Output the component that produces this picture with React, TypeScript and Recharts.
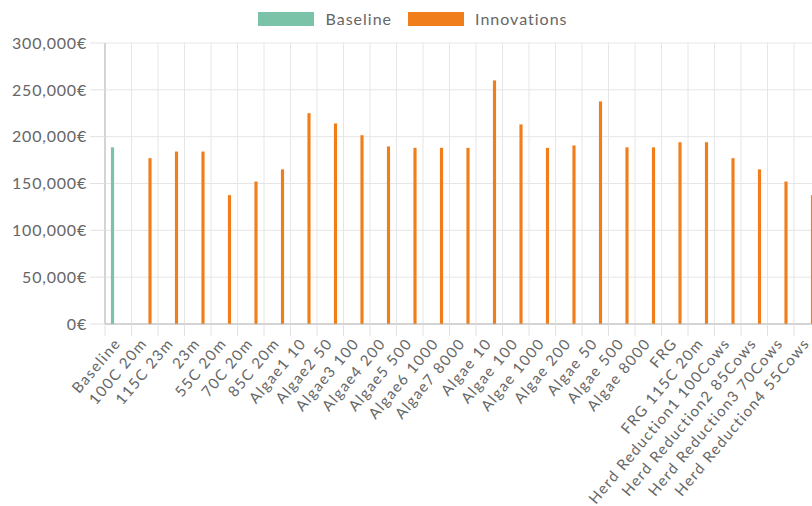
import { Bar, BarChart, CartesianGrid, Legend, XAxis, YAxis } from "recharts"

// Scenario names along the x axis
const categories = [
  "Baseline",
  "100C 20m",
  "115C 23m",
  "23m",
  "55C 20m",
  "70C 20m",
  "85C 20m",
  "Algae1 10",
  "Algae2 50",
  "Algae3 100",
  "Algae4 200",
  "Algae5 500",
  "Algae6 1000",
  "Algae7 8000",
  "Algae 10",
  "Algae 100",
  "Algae 1000",
  "Algae 200",
  "Algae 50",
  "Algae 500",
  "Algae 8000",
  "FRG",
  "FRG 115C 20m",
  "Herd Reduction1 100Cows",
  "Herd Reduction2 85Cows",
  "Herd Reduction3 70Cows",
  "Herd Reduction4 55Cows",
]

// Only the first scenario carries a baseline value
const baselineValues = [188500]

const innovationValues = [
  null, 177000, 184000, 184000, 137500, 152000, 165000, 225000, 214000, 201500,
  189500, 188000, 188000, 188000, 260000, 213000, 188000, 190500, 237500, 188500,
  188500, 194000, 194000, 177000, 165000, 152000, 137500,
]

const yTicks = [0, 50000, 100000, 150000, 200000, 250000, 300000]

const data = categories.map((name, i) => ({
  name,
  baseline: baselineValues[i] ?? null,
  innovations: innovationValues[i] ?? null,
}))

const TEAL = "#7ac3a9"
const ORANGE = "#f07e1b"
const TEXT = "#666666"
const FONT = "Lato, 'Open Sans', sans-serif"

const euro = (v: number) => `${v.toLocaleString("en-US")}€`

function CategoryTick(props: any) {
  const { x, y, payload } = props
  const half = payload?.offset ?? 13.25
  const lx = x - 6
  const ly = y + 12
  return (
    <g>
      <line x1={x - half} y1={y} x2={x - half} y2={y + 12} stroke="#e2e2e2" />
      <text
        x={lx}
        y={ly}
        transform={`rotate(-50, ${lx}, ${ly})`}
        textAnchor="end"
        dominantBaseline="hanging"
        fill={TEXT}
        fontSize={15}
        fontFamily={FONT}
        letterSpacing={1.4}
      >
        {payload.value}
      </text>
    </g>
  )
}

function LegendContent() {
  const items = [
    { label: "Baseline", color: TEAL },
    { label: "Innovations", color: ORANGE },
  ]
  return (
    <div style={{ display: "flex", justifyContent: "center", alignItems: "center", gap: 16 }}>
      {items.map((item) => (
        <div key={item.label} style={{ display: "flex", alignItems: "center" }}>
          <span style={{ width: 56, height: 14, background: item.color, marginRight: 11 }} />
          <span style={{ color: TEXT, fontSize: 16, fontFamily: FONT, letterSpacing: 1 }}>
            {item.label}
          </span>
        </div>
      ))}
    </div>
  )
}

export default function App() {
  return (
    <div
      style={{
        position: "fixed",
        left: 0,
        top: 0,
        width: 812,
        height: 506,
        overflow: "hidden",
        background: "#fff",
      }}
    >
      <BarChart
        width={826}
        height={506}
        data={data}
        margin={{ top: 43, right: 5.5, bottom: 0, left: 0 }}
        barGap={8}
        barCategoryGap={0}
      >
        <CartesianGrid
          stroke="#e6e6e6"
          verticalCoordinatesGenerator={({ offset }: any) =>
            Array.from(
              { length: categories.length + 1 },
              (_, i) => offset.left + (i * offset.width) / categories.length
            )
          }
        />
        <XAxis
          dataKey="name"
          interval={0}
          height={182}
          tickSize={0}
          tickMargin={0}
          axisLine={{ stroke: "#b5b5b5" }}
          tick={<CategoryTick />}
        />
        <YAxis
          width={105}
          domain={[0, 300000]}
          ticks={yTicks}
          tickFormatter={euro}
          tickSize={15}
          tickMargin={3}
          axisLine={{ stroke: "#b5b5b5" }}
          tickLine={{ stroke: "#e2e2e2" }}
          tick={{ fill: TEXT, fontSize: 16, fontFamily: FONT, letterSpacing: 0.8 }}
        />
        <Legend
          verticalAlign="middle"
          layout="horizontal"
          align="center"
          wrapperStyle={{ top: 9, left: 0, width: 826 }}
          content={<LegendContent />}
        />
        <Bar
          dataKey="baseline"
          name="Baseline"
          fill={TEAL}
          barSize={3}
          stroke="rgba(122,195,169,0.2)"
          strokeWidth={1}
          isAnimationActive={false}
        />
        <Bar
          dataKey="innovations"
          name="Innovations"
          fill={ORANGE}
          barSize={3}
          stroke="rgba(240,126,27,0.15)"
          strokeWidth={1}
          isAnimationActive={false}
        />
      </BarChart>
    </div>
  )
}
